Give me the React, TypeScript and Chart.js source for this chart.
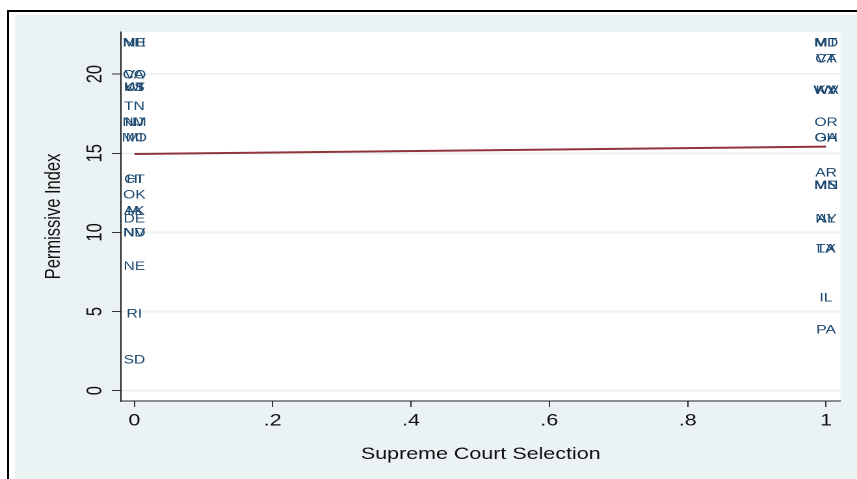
import { useEffect, useRef } from "react";
import { Chart, registerables } from "chart.js";

Chart.register(...registerables);

// The graph is laid out on a 659px-wide canvas and widened to 857px,
// which gives the text its broad, stretched look.
const BASE_WIDTH = 659;
const STRETCH = 857 / BASE_WIDTH;
const FONT = '"Liberation Sans", Arial, Helvetica, sans-serif';

// State abbreviations, their supreme court selection method (0/1) and permissive index
const states = [
  "NH", "ME", "CO", "VA", "WI", "UT", "KS", "TN", "NM", "NJ", "MI", "MO",
  "CT", "HI", "OK", "IA", "AK", "DE", "NV", "ND", "NE", "RI", "SD",
  "MD", "MT", "CA", "VT", "WV", "KY", "WA", "OR", "GA", "OH", "AR", "MS",
  "MN", "NY", "AL", "TX", "LA", "IL", "PA",
];
const courtSelection = [
  0, 0, 0, 0, 0, 0, 0, 0, 0, 0, 0, 0,
  0, 0, 0, 0, 0, 0, 0, 0, 0, 0, 0,
  1, 1, 1, 1, 1, 1, 1, 1, 1, 1, 1, 1,
  1, 1, 1, 1, 1, 1, 1,
];
const permissiveIndex = [
  22, 22, 20, 20, 19.2, 19.2, 19.2, 18, 17, 17, 16, 16,
  13.4, 13.4, 12.4, 11.4, 11.4, 10.9, 10, 10, 7.9, 4.9, 2,
  22, 22, 21, 21, 19, 19, 19, 17, 16, 16, 13.8, 13,
  13, 10.9, 10.9, 9, 9, 5.9, 3.9,
];

// Linear fit of permissive index on selection
const fitSelection = [0, 1];
const fitIndex = [14.95, 15.42];

const xTicks = [0, 0.2, 0.4, 0.6, 0.8, 1];
const xTickLabels = ["0", ".2", ".4", ".6", ".8", "1"];
const yTicks = [0, 5, 10, 15, 20];
const yTickLabels = ["0", "5", "10", "15", "20"];

const xTitle = "Supreme Court Selection";
const yTitle = "Permissive Index";

const plotBackground = {
  id: "plotBackground",
  beforeDraw(chart: any) {
    const { ctx, chartArea: a } = chart;
    ctx.save();
    ctx.fillStyle = "#ffffff";
    ctx.fillRect(a.left, a.top, a.right - a.left, a.bottom - a.top);
    ctx.restore();
  },
};

const markerLabels = {
  id: "markerLabels",
  beforeDatasetsDraw(chart: any) {
    const meta = chart.getDatasetMeta(0);
    const ctx = chart.ctx;
    const size = 12;
    ctx.save();
    ctx.font = `${size}px ${FONT}`;
    ctx.fillStyle = "#1A476F";
    ctx.textAlign = "center";
    ctx.textBaseline = "alphabetic";
    meta.data.forEach((pt: any, i: number) => {
      ctx.fillText(states[i], pt.x, pt.y + size * 0.358);
    });
    ctx.restore();
  },
};

const axisText = {
  id: "axisText",
  afterDraw(chart: any) {
    const { ctx, chartArea: a, scales } = chart;
    ctx.save();
    ctx.fillStyle = "#111111";
    ctx.font = `16.5px ${FONT}`;
    ctx.textAlign = "center";
    ctx.textBaseline = "alphabetic";
    xTicks.forEach((v, i) => {
      ctx.fillText(xTickLabels[i], scales.x.getPixelForValue(v), a.bottom + 24.5);
    });
    ctx.fillText(xTitle, (a.left + a.right) / 2, a.bottom + 58);
    yTicks.forEach((v, i) => {
      ctx.save();
      ctx.translate(a.left - 15, scales.y.getPixelForValue(v));
      ctx.rotate(-Math.PI / 2);
      ctx.fillText(yTickLabels[i], 0, 0);
      ctx.restore();
    });
    ctx.save();
    ctx.translate(a.left - 47, (a.top + a.bottom) / 2);
    ctx.rotate(-Math.PI / 2);
    ctx.fillText(yTitle, 0, 0);
    ctx.restore();
    ctx.restore();
  },
};

export default function App() {
  const canvasRef = useRef<HTMLCanvasElement | null>(null);

  useEffect(() => {
    if (!canvasRef.current) return;
    const chart = new Chart(canvasRef.current, {
      type: "scatter",
      data: {
        datasets: [
          {
            type: "scatter",
            data: states.map((_, i) => ({ x: courtSelection[i], y: permissiveIndex[i] })),
            pointRadius: 0,
            pointHoverRadius: 0,
            showLine: false,
          },
          {
            type: "line",
            data: fitSelection.map((x, i) => ({ x, y: fitIndex[i] })),
            borderColor: "#90353B",
            borderWidth: 2,
            pointRadius: 0,
            fill: false,
          },
        ],
      } as any,
      options: {
        animation: false,
        responsive: true,
        maintainAspectRatio: false,
        devicePixelRatio: 2,
        events: [],
        layout: { padding: { left: 0, right: 12.8, top: 32, bottom: 0 } },
        plugins: { legend: { display: false }, tooltip: { enabled: false } },
        scales: {
          x: {
            type: "linear",
            min: -0.0192,
            max: 1.0207,
            afterBuildTicks: (s: any) => {
              s.ticks = xTicks.map((value) => ({ value }));
            },
            afterFit: (s: any) => {
              s.height = 78;
            },
            ticks: { display: false },
            grid: {
              drawOnChartArea: false,
              drawTicks: true,
              tickLength: 6,
              tickColor: "#333333",
              tickWidth: 1,
            },
            border: { display: true, color: "#222222", width: 1 },
          },
          y: {
            type: "linear",
            min: -0.65,
            max: 22.66,
            afterBuildTicks: (s: any) => {
              s.ticks = yTicks.map((value) => ({ value }));
            },
            afterFit: (s: any) => {
              s.width = 93.1;
            },
            ticks: { display: false },
            grid: {
              color: "#EAF2F3",
              lineWidth: 2,
              drawTicks: true,
              tickLength: 7,
              tickColor: "#333333",
              tickWidth: 1,
            },
            border: { display: true, color: "#222222", width: 1 },
          },
        },
      } as any,
      plugins: [plotBackground, markerLabels, axisText],
    });
    return () => chart.destroy();
  }, []);

  return (
    <div
      style={{
        position: "fixed",
        left: 0,
        top: 0,
        width: 857,
        height: 479,
        background: "#ffffff",
        overflow: "hidden",
      }}
    >
      <div
        style={{
          position: "absolute",
          left: 7,
          top: 10,
          right: -10,
          bottom: -10,
          borderLeft: "2px solid #000",
          borderTop: "2px solid #000",
        }}
      />
      <div
        style={{
          position: "absolute",
          left: 15,
          top: 15,
          right: 0,
          bottom: 0,
          background: "#EAF2F3",
        }}
      />
      <div
        style={{
          position: "absolute",
          left: 0,
          top: 0,
          width: BASE_WIDTH,
          height: 479,
          transform: `scaleX(${STRETCH})`,
          transformOrigin: "0 0",
        }}
      >
        <canvas ref={canvasRef} />
      </div>
    </div>
  );
}
